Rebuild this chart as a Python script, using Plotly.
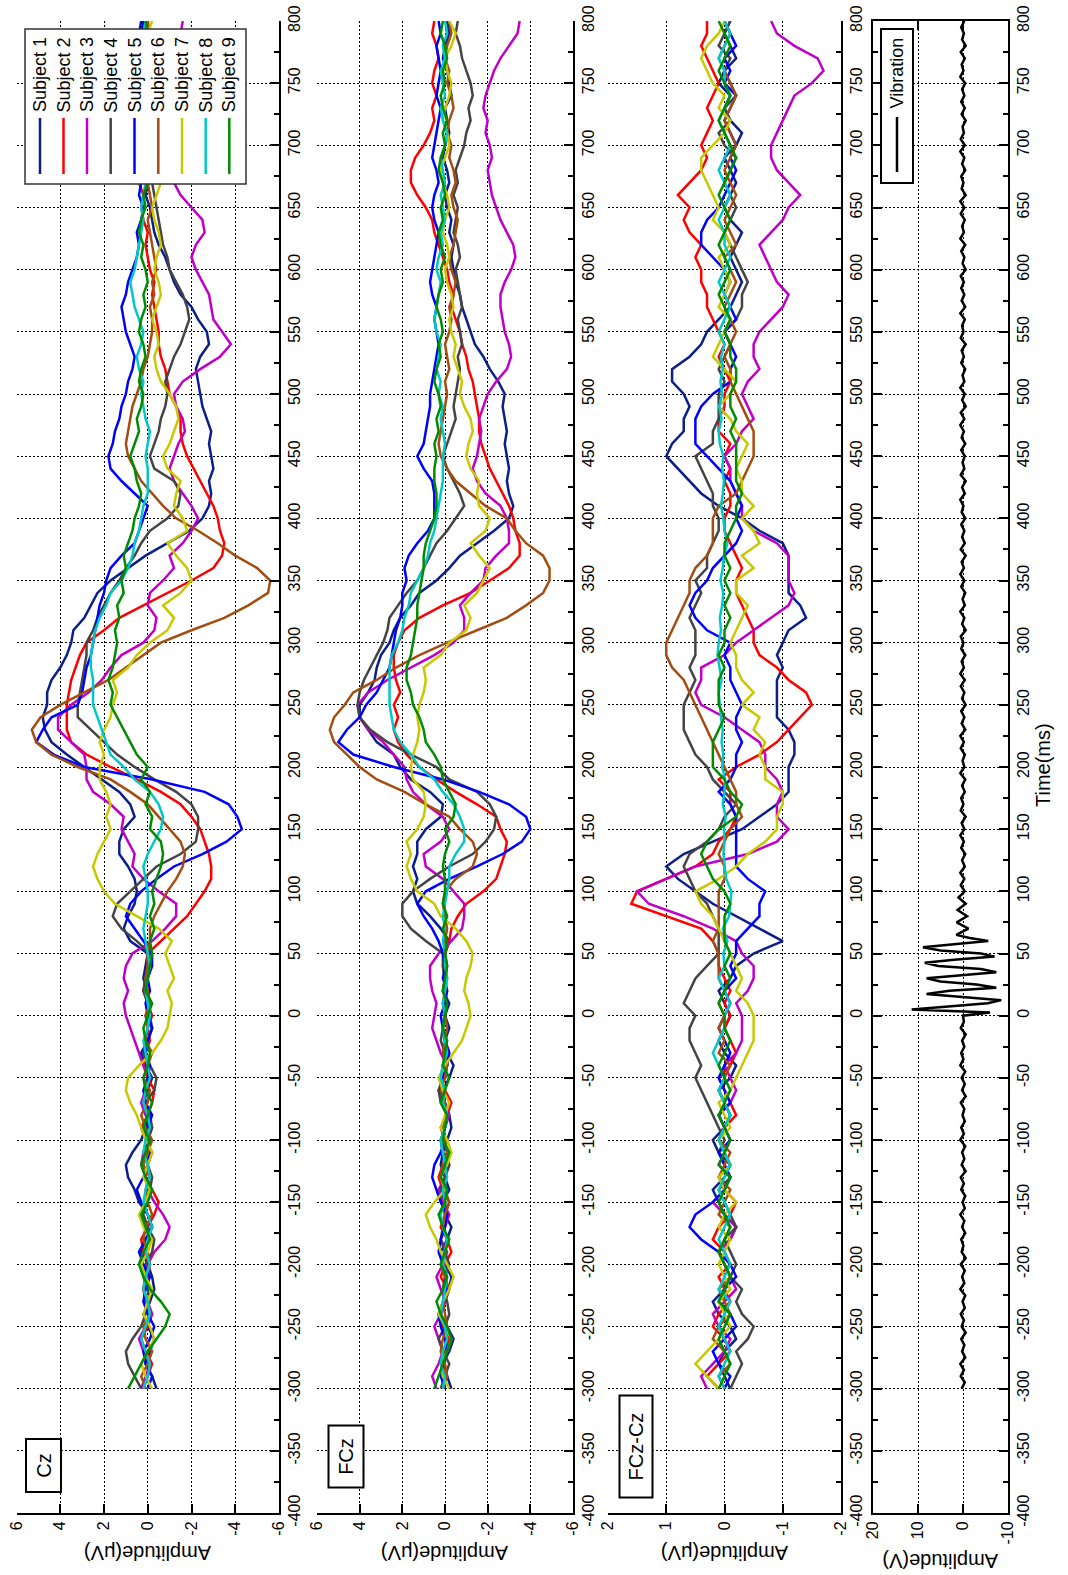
import plotly.graph_objects as go

W, H = 1068, 1575

time_ms = list(range(-300, 801, 10))
subject_names = ["Subject 1", "Subject 2", "Subject 3", "Subject 4", "Subject 5",
                 "Subject 6", "Subject 7", "Subject 8", "Subject 9"]
subject_colors = ["#0B1F8C", "#FF0000", "#C000C8", "#444444", "#0000FF",
                  "#A34E10", "#C8C800", "#00C8C8", "#008C00"]

# ---------------- Cz (uV) ----------------
cz_s1 = [-0.4,-0.2,0.1,-0.1,-0.3,0.0,0.2,-0.1,-0.3,-0.2,
         0.0,0.3,0.1,-0.2,0.0,0.4,0.6,0.9,1.0,0.7,
         0.3,0.1,-0.1,0.2,0.0,-0.2,0.1,0.3,0.0,-0.2,
         0.1,-0.1,0.0,0.2,0.1,
         0.0,0.8,1.1,0.9,0.6,0.5,0.6,0.9,1.3,1.3,
         1.1,0.6,0.8,1.3,2.1,2.9,3.7,4.4,4.7,4.8,
         4.6,4.6,4.4,4.0,3.7,3.5,3.4,2.9,2.6,2.3,
         1.7,0.9,0.1,-0.9,-1.9,-2.5,-2.8,-2.9,-2.8,-3.0,
         -2.9,
         -2.8,-2.9,-2.7,-2.5,-2.4,-2.3,-2.2,-2.4,-2.8,-2.7,
         -2.3,-2.0,-1.5,-1.2,-1.0,-0.8,-0.5,-0.3,-0.2,-0.1,
         0.1,0.0,0.2,0.1,0.1,0.3,0.2,0.0,-0.2,-0.1,
         0.1,0.2,0.3,0.4,0.3]
cz_s2 = [0.2,0.0,-0.2,0.1,0.3,0.0,-0.2,0.1,0.2,0.0,
         -0.1,0.2,0.3,0.0,-0.3,-0.5,-0.2,0.1,0.0,-0.2,
         0.1,0.3,0.0,-0.2,-0.3,0.0,0.2,0.1,-0.1,0.0,
         -0.2,0.0,0.2,0.1,0.0,
         0.0,-0.6,-1.2,-1.8,-2.2,-2.6,-2.9,-2.9,-2.8,-2.6,
         -2.4,-2.0,-1.5,-0.6,0.5,1.7,2.8,3.5,3.7,3.7,
         3.7,3.6,3.5,3.3,3.1,2.8,2.0,1.3,0.2,-0.9,
         -2.0,-3.0,-3.4,-3.5,-3.3,-3.2,-3.0,-2.7,-2.4,-2.1,
         -1.8,
         -1.6,-1.5,-1.5,-1.3,-1.0,-0.9,-0.8,-0.6,-0.5,-0.5,
         -0.4,-0.3,-0.2,-0.3,-0.1,0.0,0.1,0.0,0.2,0.3,
         0.2,0.4,0.3,0.2,0.1,0.3,0.2,0.0,0.1,0.3,
         0.2,0.1,0.3,0.2,0.0]
cz_s3 = [0.3,0.1,-0.1,0.2,0.4,0.1,-0.2,0.0,0.2,0.1,
         0.0,-0.3,-0.8,-1.0,-0.7,-0.3,0.0,0.1,0.3,0.2,
         0.0,-0.2,0.1,0.3,0.1,-0.1,0.2,0.4,0.6,0.8,
         1.0,1.1,0.9,1.1,1.0,
         0.7,-0.2,-0.8,-1.3,-1.3,-0.5,0.2,0.7,0.6,0.9,
         1.2,1.1,1.7,2.5,2.8,2.8,2.9,3.5,4.1,4.1,
         3.5,2.7,2.1,1.7,1.2,0.2,-0.3,-0.4,0.0,-0.1,
         -0.7,-1.2,-1.0,-1.6,-2.0,-2.3,-2.0,-1.6,-1.2,-1.0,
         -1.2,
         -1.4,-1.7,-1.6,-1.3,-1.2,-1.6,-2.4,-3.3,-3.8,-3.4,
         -3.0,-2.9,-2.8,-2.5,-2.2,-2.0,-2.2,-2.6,-2.5,-2.0,
         -1.5,-1.2,-1.0,-1.2,-1.1,-1.0,-1.3,-1.1,-0.9,-1.0,
         -1.2,-1.4,-1.3,-1.5,-1.6]
cz_s4 = [0.3,0.6,0.9,1.0,0.7,0.3,0.1,-0.1,0.0,0.2,
         0.1,-0.2,-0.3,0.0,0.2,0.1,-0.1,-0.2,0.0,0.1,
         0.0,-0.2,-0.1,0.1,-0.3,-0.4,-0.1,0.2,0.0,-0.2,
         -0.1,0.0,0.2,0.1,0.0,
         -0.1,0.5,1.2,1.6,1.4,0.8,0.2,-0.4,-1.5,-2.2,
         -2.3,-2.3,-2.0,-1.3,-0.3,0.6,1.4,2.0,2.6,3.2,
         3.2,3.1,3.0,2.9,2.8,2.8,2.5,2.3,2.0,1.7,
         1.3,1.0,0.6,0.3,-0.1,-0.9,-1.4,-1.5,-1.2,-0.3,
         -0.1,
         -0.3,-0.5,-0.6,-0.8,-0.9,-0.8,-1.0,-1.2,-1.5,-1.7,
         -1.9,-1.8,-1.6,-1.3,-1.0,-0.9,-0.7,-0.6,-0.5,-0.4,
         -0.3,-0.2,-0.3,-0.1,0.0,-0.1,0.1,0.0,-0.2,-0.1,
         0.0,0.1,-0.1,0.0,0.1]
cz_s5 = [0.0,-0.2,0.1,0.2,-0.1,-0.3,0.0,0.2,0.1,-0.1,
         0.2,0.4,0.1,-0.2,0.0,0.3,0.5,0.2,0.0,-0.1,
         0.1,0.0,-0.2,0.1,0.2,0.0,-0.1,0.1,0.0,-0.2,
         0.0,0.1,-0.1,0.0,-0.2,
         -0.2,0.2,0.6,1.0,0.8,0.3,-0.4,-1.2,-2.5,-3.6,
         -4.3,-4.1,-3.7,-2.6,-0.2,2.9,4.3,5.1,4.8,4.4,
         3.2,3.0,2.9,2.8,2.6,2.5,2.4,2.3,2.2,2.0,
         1.9,1.7,1.2,0.6,0.4,0.2,0.0,0.6,1.2,1.7,
         1.8,
         1.6,1.5,1.3,1.2,1.0,0.9,0.7,0.6,0.8,1.0,
         1.1,1.2,1.0,0.9,0.7,0.5,0.4,0.5,0.3,0.2,
         0.4,0.3,0.2,0.4,0.3,0.2,0.1,0.3,0.2,0.4,
         0.3,0.2,0.1,0.3,0.2]
cz_s6 = [0.1,0.3,0.0,-0.2,0.1,0.2,-0.1,0.0,0.2,0.1,
         -0.1,0.0,0.2,0.1,-0.2,0.0,0.1,-0.1,0.2,0.0,
         -0.2,0.1,0.3,0.0,-0.1,0.2,0.0,-0.2,0.1,0.0,
         0.1,-0.1,0.0,0.1,0.0,
         0.0,-0.1,-0.1,-0.3,-0.6,-0.9,-1.3,-1.6,-1.7,-1.5,
         -1.0,-0.5,0.0,0.8,1.7,3.2,4.4,5.1,5.3,4.9,
         4.0,2.9,1.8,1.0,0.2,-0.6,-2.0,-3.5,-4.6,-5.5,
         -5.6,-5.0,-4.0,-3.2,-2.3,-1.3,-0.7,-0.2,0.3,0.6,
         0.9,
         1.0,0.9,0.8,0.7,0.5,0.3,0.2,0.0,-0.1,-0.2,
         -0.2,-0.1,-0.3,-0.2,-0.4,-0.3,-0.2,-0.1,0.0,-0.2,
         -0.1,0.0,-0.2,-0.1,0.1,0.0,-0.1,0.1,0.0,-0.2,
         -0.1,0.0,0.1,-0.1,0.0]
cz_s7 = [-0.2,0.1,0.3,0.0,-0.3,-0.1,0.2,0.0,-0.2,0.1,
         0.3,0.0,-0.2,0.2,0.4,0.1,-0.1,0.2,0.0,-0.2,
         0.1,0.3,0.5,0.8,1.0,0.9,0.4,-0.2,-0.6,-0.9,
         -1.0,-1.1,-0.9,-1.2,-1.0,
         -0.8,-1.1,-0.5,0.5,1.5,2.0,2.3,2.5,2.3,2.0,
         1.7,1.9,1.7,1.9,2.2,2.2,2.0,2.2,2.0,1.7,
         1.6,1.4,1.6,0.9,0.5,-0.1,-0.9,-1.2,-0.7,-1.5,
         -2.0,-1.8,-1.3,-0.9,-1.8,-1.6,-1.2,-1.3,-1.5,-0.9,
         -0.7,
         -1.0,-1.2,-1.4,-1.3,-1.0,-0.6,-0.4,-0.3,-0.5,-0.4,
         -0.2,-0.4,-0.6,-0.5,-0.3,-0.4,-0.6,-0.5,-0.3,-0.2,
         -0.4,-0.6,-0.3,-0.1,-0.2,-0.4,-0.3,-0.1,0.0,-0.2,
         -0.4,-0.3,-0.1,0.0,-0.2]
cz_s8 = [0.2,0.0,-0.1,0.1,0.3,0.1,-0.1,0.0,0.2,0.1,
         -0.1,0.1,0.0,-0.2,0.0,0.2,0.1,-0.1,0.0,0.2,
         0.1,-0.1,0.0,0.2,0.1,-0.1,0.0,0.1,0.2,0.0,
         -0.1,0.0,0.1,0.0,-0.1,
         0.0,0.1,0.2,0.1,0.0,0.0,0.1,0.2,0.0,-0.3,
         -0.6,-0.7,-0.5,-0.1,0.6,1.1,1.7,1.9,2.1,2.3,
         2.5,2.5,2.5,2.6,2.6,2.5,2.4,2.2,1.9,1.7,
         1.2,0.9,0.7,0.6,0.4,0.3,0.2,0.0,0.0,0.0,
         0.1,
         0.0,-0.1,0.1,0.2,0.3,0.2,0.4,0.5,0.3,0.2,
         0.4,0.6,0.7,0.8,0.6,0.5,0.4,0.3,0.2,0.3,
         0.2,0.1,0.3,0.2,0.0,0.1,0.3,0.2,0.1,0.0,
         0.2,0.1,0.3,0.2,0.1]
cz_s9 = [0.9,0.6,0.3,0.0,-0.4,-0.8,-1.0,-0.6,-0.1,0.2,
         0.4,0.2,-0.1,0.1,0.3,0.0,-0.2,0.1,0.3,0.1,
         -0.1,0.2,0.0,-0.2,0.1,0.2,0.0,-0.1,0.1,0.2,
         0.0,-0.2,0.1,0.0,-0.1,
         -0.2,-0.1,-0.3,-0.1,-0.3,-0.2,-0.4,-0.6,-0.7,-0.6,
         -0.1,-0.2,0.1,-0.1,0.3,0.0,0.5,0.8,1.1,1.4,
         1.7,1.6,1.8,1.6,1.5,1.4,1.5,1.3,1.4,1.1,
         1.2,1.0,1.1,0.9,0.7,0.6,0.4,0.3,0.5,0.6,
         0.8,
         0.6,0.4,0.5,0.3,0.2,0.4,0.3,0.1,0.2,0.4,
         0.3,0.1,0.2,0.0,0.1,0.3,0.2,0.4,0.3,0.1,
         0.2,0.0,0.1,0.3,0.2,0.0,-0.1,0.1,0.2,0.0,
         -0.1,0.1,0.2,0.0,0.1]

# ---------------- FCz (uV) ----------------
fcz_s1 = [-0.3,-0.1,0.1,-0.2,-0.4,-0.1,0.2,0.0,-0.2,-0.3,
          0.0,0.2,-0.1,-0.3,0.0,0.1,-0.2,0.0,0.2,0.1,
          -0.1,-0.3,-0.2,0.0,0.1,-0.2,-0.4,-0.1,0.0,-0.2,
          0.0,-0.2,0.1,0.0,-0.1,
          0.0,-0.2,0.2,0.7,1.3,1.5,1.3,1.5,1.3,1.3,
          0.9,0.2,0.1,0.7,1.6,2.1,2.4,3.2,3.6,4.0,
          4.0,3.6,3.3,3.2,3.0,2.6,2.4,2.1,1.6,1.2,
          0.4,-0.2,-0.7,-1.5,-2.3,-3.0,-3.2,-3.0,-2.9,-3.0,
          -2.9,
          -2.8,-2.9,-2.8,-2.7,-2.8,-2.5,-2.1,-1.8,-1.4,-1.2,
          -1.0,-0.8,-0.7,-0.5,-0.4,-0.3,-0.4,-0.2,-0.3,-0.1,
          0.0,-0.2,-0.1,0.1,0.0,-0.2,-0.1,0.0,-0.3,-0.2,
          -0.1,0.1,0.0,-0.2,-0.1]
fcz_s2 = [0.1,-0.1,0.2,0.0,-0.2,0.1,0.3,0.0,-0.1,0.2,
          0.0,-0.3,-0.1,0.2,0.0,-0.2,0.1,0.3,0.1,-0.1,
          0.0,0.2,-0.1,-0.3,0.0,0.2,0.1,-0.2,0.0,0.1,
          0.0,0.1,-0.1,0.0,0.1,
          0.0,-0.2,-0.3,-0.6,-1.0,-1.8,-2.4,-2.6,-2.8,-2.9,
          -2.6,-2.4,-1.5,-0.5,0.4,1.2,1.8,2.2,2.4,2.2,
          2.4,2.1,2.3,2.4,2.4,2.2,1.9,1.2,0.1,-1.2,
          -2.1,-3.0,-3.5,-3.5,-3.3,-3.2,-3.0,-2.7,-2.4,-2.1,
          -1.9,
          -1.7,-1.6,-1.6,-1.5,-1.4,-1.3,-1.1,-1.0,-0.8,-0.7,
          -0.5,-0.3,-0.4,-0.2,-0.1,0.1,0.3,0.5,0.6,0.9,
          1.3,1.6,1.6,1.4,1.0,0.7,0.5,0.6,0.4,0.6,
          0.5,0.3,0.4,0.6,0.5]
fcz_s3 = [0.4,0.6,0.3,0.1,0.3,0.5,0.2,0.0,0.2,0.4,
          0.1,-0.1,0.2,0.0,-0.2,0.1,0.3,0.0,-0.2,0.1,
          0.2,0.0,-0.2,0.1,0.3,0.0,-0.1,0.2,0.4,0.6,
          0.5,0.4,0.6,0.7,0.7,
          0.3,-0.3,-0.8,-0.9,-0.9,-0.4,0.1,0.9,1.0,0.2,
          -0.2,0.1,0.9,1.5,1.8,1.9,2.4,2.9,3.6,4.0,
          4.1,3.6,2.7,1.6,0.5,-0.4,-0.9,-0.9,-0.7,-1.2,
          -1.8,-1.9,-2.4,-3.0,-3.0,-2.9,-2.6,-1.9,-1.5,-1.3,
          -1.5,
          -1.6,-1.7,-1.6,-1.8,-2.0,-2.4,-2.9,-3.1,-3.0,-2.8,
          -2.7,-2.6,-2.6,-2.8,-3.1,-3.3,-3.2,-2.9,-2.6,-2.4,
          -2.2,-2.1,-2.0,-2.2,-2.1,-1.9,-2.0,-1.8,-1.9,-2.1,
          -2.3,-2.6,-3.0,-3.4,-3.5]
fcz_s4 = [0.2,0.0,-0.2,0.1,0.3,0.0,-0.2,-0.1,0.1,0.0,
          -0.2,0.0,0.2,0.1,-0.1,0.0,0.2,0.0,-0.2,0.1,
          0.2,0.0,-0.1,0.2,0.3,0.1,-0.1,0.0,0.2,0.1,
          0.0,-0.1,0.1,0.0,0.1,
          0.1,0.9,1.6,2.0,2.0,1.5,0.7,-0.2,-1.3,-1.9,
          -2.3,-2.4,-2.1,-1.5,-0.2,0.4,1.6,2.7,3.5,4.0,
          4.1,4.0,3.8,3.5,3.2,2.9,2.7,2.6,2.2,1.8,
          1.3,1.0,0.7,0.4,-0.1,-0.5,-0.9,-0.7,-0.4,-0.1,
          0.1,
          -0.1,-0.3,-0.5,-0.4,-0.5,-0.6,-0.7,-0.6,-0.8,-0.7,
          -0.6,-0.8,-0.7,-0.6,-0.5,-0.7,-0.6,-0.4,-0.5,-0.6,
          -0.4,-0.6,-0.5,-0.7,-0.9,-1.0,-1.2,-1.1,-1.3,-1.2,
          -1.0,-0.8,-0.7,-0.5,-0.6]
fcz_s5 = [0.0,0.2,0.1,-0.1,0.0,0.2,0.3,0.1,-0.1,0.0,
          0.1,0.3,0.2,0.0,-0.1,0.2,0.4,0.6,0.5,0.2,
          0.0,0.1,-0.1,0.0,0.2,0.1,-0.1,-0.2,0.0,0.1,
          0.2,0.0,-0.1,0.1,0.0,
          0.1,0.3,0.6,1.0,1.3,0.9,-0.2,-1.5,-2.7,-3.6,
          -4.0,-3.8,-3.0,-1.6,0.1,2.4,4.3,5.0,4.6,4.0,
          3.7,3.2,2.9,2.6,2.5,2.4,2.3,2.1,2.0,2.0,
          1.8,1.9,1.7,1.3,0.8,0.5,0.5,0.5,0.6,1.0,
          1.3,
          1.0,0.9,0.8,0.7,0.7,0.6,0.5,0.4,0.3,0.4,
          0.5,0.4,0.6,0.7,0.6,0.5,0.4,0.3,0.5,0.6,
          0.5,0.3,0.4,0.6,0.5,0.4,0.3,0.2,0.4,0.3,
          0.2,0.3,0.4,0.2,0.3]
fcz_s6 = [0.1,-0.1,0.0,0.2,0.1,-0.1,0.0,0.1,-0.2,0.0,
          0.2,0.0,-0.1,0.1,0.0,-0.2,0.0,0.2,0.1,-0.1,
          0.0,0.1,-0.1,0.0,0.2,0.0,-0.1,0.1,0.0,-0.1,
          0.0,0.1,0.0,-0.1,0.0,
          0.0,0.0,-0.1,0.0,0.1,0.0,-0.5,-1.3,-1.5,-1.3,
          -0.7,-0.2,0.9,1.9,3.2,4.0,4.6,5.2,5.4,5.2,
          4.7,4.3,3.2,2.3,1.2,-0.1,-1.5,-2.9,-3.8,-4.6,
          -4.9,-4.9,-4.6,-3.8,-3.3,-2.9,-1.9,-1.2,-0.5,-0.1,
          0.2,
          0.3,0.2,0.1,0.0,-0.1,0.0,-0.2,-0.1,0.0,-0.2,
          -0.3,-0.2,-0.4,-0.5,-0.3,-0.2,-0.4,-0.5,-0.6,-0.4,
          -0.3,-0.5,-0.4,-0.2,-0.3,-0.1,-0.2,-0.4,-0.3,-0.1,
          -0.2,0.0,-0.1,-0.3,-0.2]
fcz_s7 = [-0.2,0.1,0.2,-0.1,-0.3,0.0,0.3,0.1,-0.2,-0.4,
          -0.1,0.2,0.4,0.7,0.9,0.5,0.0,0.2,-0.1,-0.3,
          -0.1,0.2,0.0,-0.2,0.1,0.3,0.0,-0.4,-0.8,-1.0,
          -1.2,-1.1,-0.9,-1.0,-1.2,
          -1.3,-1.0,-0.5,0.2,0.5,1.3,1.6,1.8,1.6,1.8,
          1.3,1.0,0.9,1.0,1.5,1.6,1.5,1.3,1.2,1.3,
          1.2,1.0,0.9,1.0,0.2,-0.2,-1.0,-1.2,-0.9,-1.5,
          -1.8,-2.1,-1.6,-1.2,-1.9,-2.1,-1.6,-1.5,-1.6,-1.2,
          -1.0,
          -1.1,-1.3,-1.2,-0.9,-0.7,-0.8,-0.6,-0.4,-0.5,-0.3,
          -0.2,-0.4,-0.3,-0.1,0.0,-0.2,-0.1,0.1,0.0,-0.2,
          -0.1,0.1,0.2,0.0,-0.2,-0.1,0.1,0.0,-0.2,-0.3,
          -0.1,0.0,-0.3,-0.5,-0.2]
fcz_s8 = [0.1,0.0,0.2,0.1,-0.1,0.0,0.2,0.1,0.0,-0.1,
          0.1,0.0,-0.1,0.1,0.2,0.0,0.1,-0.1,0.0,0.1,
          0.2,0.0,-0.1,0.1,0.0,0.2,0.1,-0.1,0.0,0.1,
          0.0,0.1,0.0,-0.1,0.0,
          0.0,0.1,0.0,0.1,0.0,-0.1,-0.2,-0.2,-0.5,-0.9,
          -0.9,-0.7,-0.4,0.1,0.5,1.2,1.6,2.1,2.4,2.5,
          2.6,2.6,2.6,2.6,2.5,2.2,2.0,1.9,1.7,1.6,
          1.3,1.0,0.8,0.7,0.5,0.4,0.3,0.2,0.1,0.1,
          0.1,
          0.0,0.1,0.2,0.1,0.3,0.2,0.4,0.3,0.2,0.4,
          0.5,0.4,0.3,0.2,0.4,0.3,0.1,0.2,0.0,0.1,
          0.2,0.0,0.1,0.2,0.0,-0.1,0.1,0.2,0.0,0.1,
          0.2,0.0,0.1,-0.1,0.0]
fcz_s9 = [0.5,0.3,0.1,-0.1,-0.3,-0.1,0.2,0.4,0.1,-0.1,
          0.2,0.0,-0.2,0.1,0.3,0.0,-0.1,0.2,0.0,-0.2,
          0.1,0.0,-0.1,0.2,0.0,-0.2,0.1,0.0,-0.1,0.1,
          0.0,-0.1,0.1,0.0,-0.1,
          0.0,-0.1,0.1,-0.1,0.1,0.0,0.0,0.1,0.0,-0.2,
          0.0,-0.4,-0.5,-0.2,0.1,0.2,0.5,0.9,1.0,1.2,
          1.5,1.6,1.8,1.8,1.6,1.5,1.4,1.3,1.3,1.2,
          1.1,1.0,1.0,0.9,0.7,0.5,0.4,0.4,0.5,0.5,
          0.4,
          0.5,0.3,0.4,0.2,0.3,0.5,0.4,0.2,0.3,0.1,
          0.2,0.4,0.3,0.1,0.2,0.0,0.2,0.3,0.1,0.2,
          0.0,0.1,0.3,0.2,0.0,0.1,-0.1,0.1,0.2,0.0,
          0.1,-0.1,0.0,0.2,0.1]

# ---------------- FCz-Cz (uV) ----------------
diff_s1 = [-0.1,0.0,0.1,0.0,-0.2,-0.1,0.1,0.2,0.0,-0.1,
           0.0,0.1,-0.1,-0.2,0.0,0.1,0.2,0.0,-0.1,0.1,
           0.2,0.0,-0.1,0.0,0.1,-0.1,-0.2,0.0,0.1,0.0,
           -0.1,0.0,0.1,-0.1,-0.2,
           -0.5,-1.0,-0.6,-0.2,0.2,0.5,0.8,1.0,0.7,0.2,
           -0.3,-0.6,-0.9,-1.1,-1.1,-1.1,-1.2,-1.2,-1.1,-0.9,
           -0.9,-0.9,-0.9,-1.0,-0.9,-1.0,-1.1,-1.4,-1.3,-1.1,
           -1.1,-1.1,-1.1,-1.0,-0.6,-0.3,0.1,0.4,0.6,0.8,
           1.0,0.9,0.7,0.7,0.6,0.7,0.9,0.9,0.6,
           0.4,0.3,0.1,-0.1,-0.2,-0.3,-0.2,-0.1,-0.2,-0.3,
           -0.1,0.0,-0.1,-0.2,-0.1,0.0,-0.2,-0.3,-0.1,0.0,
           -0.1,0.1,0.0,-0.2,-0.1,0.0,-0.1]
diff_s2 = [0.1,0.3,0.1,-0.1,0.0,0.2,0.1,-0.1,0.0,0.1,
           -0.1,0.0,0.2,0.1,-0.1,-0.2,0.0,0.1,-0.1,0.0,
           0.1,0.0,-0.2,-0.1,0.0,0.1,-0.1,-0.2,-0.1,0.0,
           -0.1,0.0,-0.1,0.0,0.1,
           0.1,0.2,0.4,1.0,1.6,1.5,1.0,0.5,0.2,0.1,
           -0.1,-0.2,-0.1,-0.1,0.1,-0.2,-0.6,-0.9,-1.1,-1.3,
           -1.5,-1.4,-1.1,-0.9,-0.6,-0.5,-0.5,-0.4,-0.3,-0.2,
           -0.2,-0.3,-0.2,-0.1,0.0,0.0,-0.1,-0.1,0.0,-0.1,
           0.0,-0.1,0.1,0.1,0.0,0.0,-0.1,0.0,0.1,
           0.0,0.1,0.2,0.3,0.3,0.4,0.4,0.5,0.4,0.6,
           0.7,0.6,0.8,0.6,0.4,0.3,0.4,0.3,0.2,0.3,
           0.2,0.1,0.2,0.3,0.4,0.3,0.3]
diff_s3 = [0.3,0.4,0.2,0.0,-0.1,0.1,0.2,0.0,-0.2,-0.1,
           0.0,0.1,-0.1,-0.2,0.0,0.2,0.0,-0.1,0.1,0.0,
           -0.1,0.0,0.1,-0.1,-0.2,-0.1,0.0,-0.2,-0.3,-0.3,
           -0.3,-0.2,-0.4,-0.5,-0.5,
           -0.3,-0.2,0.2,0.7,1.3,1.5,1.0,0.5,-0.4,-0.9,
           -1.1,-0.9,-0.9,-1.0,-0.9,-0.7,-0.7,-0.6,-0.3,0.0,
           0.4,0.5,0.4,0.4,0.0,-0.2,-0.5,-0.8,-1.1,-1.2,
           -1.1,-1.1,-1.1,-0.9,-0.5,-0.3,-0.3,-0.2,-0.1,-0.1,
           0.0,-0.2,-0.3,-0.5,-0.4,-0.3,-0.4,-0.6,-0.5,
           -0.5,-0.6,-0.8,-1.0,-1.1,-0.9,-0.8,-0.7,-0.6,-0.8,
           -1.0,-1.1,-1.3,-1.1,-0.9,-0.8,-0.8,-0.9,-1.0,-1.1,
           -1.2,-1.5,-1.7,-1.6,-1.2,-0.9,-0.8]
diff_s4 = [-0.1,-0.2,-0.3,-0.2,-0.4,-0.5,-0.3,-0.2,-0.3,-0.1,
           -0.2,-0.1,0.0,-0.2,-0.1,0.0,0.1,-0.1,0.0,0.1,
           0.0,0.1,0.2,0.3,0.4,0.5,0.4,0.5,0.6,0.6,
           0.5,0.7,0.6,0.5,0.3,
           0.1,0.1,0.1,0.2,0.3,0.5,0.6,0.7,0.6,0.3,
           0.1,0.0,-0.2,0.0,0.2,0.3,0.5,0.6,0.7,0.7,
           0.7,0.6,0.5,0.6,0.5,0.5,0.5,0.6,0.5,0.4,
           0.5,0.3,0.3,0.2,0.1,0.1,0.2,0.2,0.3,0.4,
           0.5,0.2,0.2,0.1,0.1,0.1,0.0,0.1,0.0,
           -0.1,0.0,-0.2,-0.3,-0.3,-0.4,-0.3,-0.2,-0.1,0.0,
           -0.1,-0.2,-0.1,0.0,-0.1,-0.2,0.0,0.1,-0.1,0.0,
           -0.2,-0.1,0.0,-0.1,0.1,0.0,-0.1]
diff_s5 = [0.0,-0.1,0.1,0.2,0.0,-0.2,-0.1,0.1,0.0,-0.2,
           -0.1,0.1,0.4,0.6,0.5,0.2,0.0,-0.1,0.0,0.1,
           -0.1,0.0,0.1,-0.1,0.0,0.1,0.0,-0.1,0.0,0.1,
           0.0,-0.1,0.0,-0.2,-0.1,
           -0.2,-0.2,-0.4,-0.6,-0.6,-0.7,-0.4,-0.2,-0.2,-0.2,
           -0.2,-0.2,-0.1,0.1,-0.1,-0.2,-0.2,-0.3,-0.2,-0.2,
           -0.3,-0.2,-0.1,-0.1,0.0,-0.1,0.3,0.5,0.6,0.5,
           0.3,0.2,0.0,-0.2,-0.3,-0.2,-0.3,-0.2,-0.1,0.1,
           0.3,0.5,0.5,0.5,0.4,0.2,-0.1,-0.1,-0.2,
           -0.1,0.0,-0.2,-0.1,0.0,-0.1,0.0,0.2,0.4,0.4,
           0.3,0.1,0.0,-0.1,-0.2,-0.1,-0.2,-0.1,0.0,-0.1,
           -0.2,0.0,-0.1,0.0,-0.2,-0.1,0.0]
diff_s6 = [0.0,0.1,-0.1,0.0,0.2,0.1,-0.1,0.0,0.1,-0.1,
           0.0,0.1,0.0,-0.1,0.1,0.0,-0.1,0.1,0.0,-0.1,
           0.1,0.0,-0.1,0.0,0.1,0.0,-0.1,0.1,0.0,0.1,
           0.0,0.1,0.0,0.1,0.1,
           0.1,0.2,0.1,0.1,0.1,0.1,0.0,0.0,0.1,0.0,
           -0.1,-0.3,-0.2,-0.2,-0.1,0.0,0.1,0.2,0.3,0.4,
           0.5,0.6,0.7,0.9,1.0,1.0,0.9,0.8,0.7,0.6,
           0.6,0.5,0.3,0.2,0.2,0.2,0.1,-0.2,-0.3,-0.4,
           -0.5,-0.5,-0.5,-0.4,-0.3,-0.2,-0.1,-0.1,0.0,
           -0.1,-0.2,-0.1,0.0,-0.1,-0.2,-0.1,0.0,-0.2,-0.1,
           0.0,-0.1,-0.2,-0.1,0.0,-0.1,-0.2,-0.1,0.0,-0.1,
           -0.2,-0.1,0.0,0.1,0.0,-0.1,0.0]
diff_s7 = [0.1,0.3,0.5,0.3,0.1,-0.1,0.0,0.1,-0.1,0.0,
           0.1,0.0,-0.1,0.1,0.0,-0.2,0.0,0.1,-0.1,0.0,
           0.1,-0.1,0.0,0.1,-0.1,-0.2,-0.3,-0.4,-0.5,-0.5,
           -0.5,-0.4,-0.2,-0.3,-0.2,
           -0.1,0.0,0.1,0.2,0.4,0.5,0.1,-0.2,-0.4,-0.7,
           -0.9,-0.9,-1.0,-1.0,-0.7,-0.7,-0.6,-0.7,-0.5,-0.6,
           -0.3,-0.5,-0.3,-0.2,-0.2,-0.1,-0.2,-0.3,-0.4,-0.2,
           -0.2,-0.5,-0.3,-0.6,-0.5,-0.3,-0.5,-0.3,-0.3,-0.2,
           -0.3,-0.4,-0.2,-0.1,0.1,-0.1,-0.2,0.0,0.2,
           0.1,0.0,-0.1,0.1,0.0,-0.1,0.0,0.1,-0.1,0.0,
           0.2,0.1,0.2,0.3,0.4,0.4,0.2,0.0,-0.1,0.1,
           0.0,0.2,0.3,0.4,0.3,0.1,0.0]
diff_s8 = [0.0,0.1,0.0,-0.1,0.0,0.1,0.0,-0.1,0.1,0.0,
           -0.1,0.0,0.1,0.0,-0.1,0.0,0.1,0.0,-0.1,0.0,
           0.1,0.0,-0.1,0.0,0.1,0.0,0.1,0.2,0.1,0.0,
           0.0,-0.1,0.0,0.1,0.0,
           0.02,-0.05,0.03,-0.08,-0.1,-0.12,-0.03,0.0,0.02,0.0,
           0.01,-0.02,0.03,0.0,-0.01,0.04,0.02,0.05,0.03,0.06,
           0.08,0.1,0.05,0.09,0.12,0.1,0.06,0.08,0.04,0.02,
           0.07,0.03,0.01,-0.05,0.0,0.02,0.06,0.03,0.01,0.04,
           0.02,0.08,0.1,0.05,0.09,0.04,0.07,0.03,0.06,
           0.0,0.1,0.0,-0.1,0.0,0.1,0.0,-0.1,0.0,0.0,
           0.1,0.0,-0.1,0.0,0.1,0.0,-0.1,0.0,0.1,0.0,
           -0.1,0.0,0.0,0.1,0.0,-0.1,0.0]
diff_s9 = [0.1,0.0,-0.1,0.0,0.1,0.0,-0.1,0.1,0.0,-0.1,
           0.0,0.1,0.0,-0.1,0.0,0.1,0.0,-0.1,0.1,0.0,
           -0.1,0.0,0.1,0.0,-0.1,0.0,0.1,0.0,-0.1,0.0,
           0.0,0.1,0.0,-0.1,0.0,
           -0.1,0.0,0.0,0.0,-0.1,0.0,0.2,0.3,0.4,0.3,
           0.1,-0.2,-0.3,-0.1,0.0,0.2,0.2,0.2,0.1,0.0,
           0.1,0.1,0.1,0.0,0.1,0.0,0.0,-0.1,0.0,-0.1,
           0.0,-0.1,0.0,0.0,-0.1,-0.2,-0.2,-0.3,-0.2,-0.2,
           -0.2,-0.2,-0.1,-0.2,-0.1,-0.1,-0.2,-0.2,-0.1,
           -0.1,0.0,-0.1,0.0,0.1,0.0,-0.1,0.0,0.1,0.0,
           -0.1,0.0,0.1,0.0,-0.1,-0.2,-0.1,0.0,0.1,0.0,
           -0.1,0.0,0.1,0.0,-0.1,0.0,0.1]

# ---------------- Vibration (V) ----------------
vib_time = (list(range(-300, 0, 5))
            + [0, 2.5, 5, 7.5, 10, 12.5, 15, 17.5, 20, 22.5, 25, 27.5, 30, 32.5,
               35, 37.5, 40, 42.5, 45, 47.5, 50, 52.5, 55, 57.5, 60, 62.5, 65]
            + list(range(70, 801, 5)))
vib_amp = [0.3,-0.4,0.5,-0.2,0.6,-0.5,0.2,-0.3,0.4,-0.6,
           0.3,-0.2,0.5,-0.4,0.1,-0.5,0.6,-0.3,0.2,-0.4,
           0.5,-0.6,0.3,-0.1,0.4,-0.5,0.2,-0.3,0.6,-0.4,
           0.1,-0.5,0.4,-0.2,0.5,-0.6,0.3,-0.3,0.2,-0.5,
           0.6,-0.2,0.4,-0.4,0.1,-0.3,0.5,-0.6,0.2,-0.4,
           0.3,-0.5,0.6,-0.1,0.4,-0.3,0.2,-0.6,0.5,-0.2,
           0.0,-6.0,11.4,3.0,-5.5,-8.5,0.5,8.1,3.0,-7.4,
           -3.0,5.0,8.1,1.0,-7.4,-4.0,5.5,8.5,2.0,-7.0,
           -4.0,5.0,8.9,2.0,-5.6,-1.5,1.5,
           -1.2,1.4,-0.9,1.2,-0.6,1.0,-0.4,
           0.5,-0.3,0.6,-0.4,0.2,-0.5,0.4,-0.2,0.6,-0.3,
           0.3,-0.6,0.5,-0.1,0.4,-0.4,0.2,-0.5,0.6,-0.3,
           0.1,-0.4,0.5,-0.2,0.6,-0.5,0.3,-0.3,0.4,-0.6,
           0.2,-0.3,0.5,-0.4,0.6,-0.2,0.3,-0.5,0.4,-0.1,
           0.5,-0.6,0.2,-0.3,0.6,-0.4,0.1,-0.5,0.4,-0.3,
           0.6,-0.2,0.3,-0.6,0.5,-0.4,0.2,-0.3,0.4,-0.5,
           0.3,-0.1,0.6,-0.4,0.2,-0.6,0.5,-0.3,0.1,-0.4,
           0.4,-0.5,0.3,-0.2,0.6,-0.3,0.5,-0.6,0.2,-0.4,
           0.6,-0.3,0.1,-0.5,0.4,-0.2,0.3,-0.6,0.5,-0.1,
           0.2,-0.4,0.6,-0.5,0.3,-0.3,0.4,-0.2,0.5,-0.6,
           0.1,-0.3,0.4,-0.5,0.6,-0.2,0.2,-0.4,0.5,-0.3,
           0.6,-0.6,0.3,-0.1,0.4,-0.5,0.2,-0.3,0.6,-0.4,
           0.5,-0.2,0.1,-0.6,0.3,-0.4,0.4,-0.3,0.2,-0.5,
           0.6,-0.1,0.3,-0.4,0.5,-0.6,0.2,-0.2,0.4,-0.3]

cz = [cz_s1, cz_s2, cz_s3, cz_s4, cz_s5, cz_s6, cz_s7, cz_s8, cz_s9]
fcz = [fcz_s1, fcz_s2, fcz_s3, fcz_s4, fcz_s5, fcz_s6, fcz_s7, fcz_s8, fcz_s9]
diff = [diff_s1, diff_s2, diff_s3, diff_s4, diff_s5, diff_s6, diff_s7, diff_s8, diff_s9]

for name, group in (("cz", cz), ("fcz", fcz), ("diff", diff)):
    for i, arr in enumerate(group):
        if len(arr) != len(time_ms):
            raise ValueError(f"{name}_s{i+1} has {len(arr)} values")
if len(vib_time) != len(vib_amp):
    raise ValueError(f"vib: {len(vib_time)} vs {len(vib_amp)}")

# ---------------- figure ----------------
FONT = "Liberation Sans, Arial, sans-serif"
def px(x): return x / W
def py(y): return 1 - y / H

fig = go.Figure()
for k, group in enumerate([cz, fcz, diff], start=1):
    for i, arr in enumerate(group):
        fig.add_trace(go.Scatter(x=arr, y=time_ms, mode="lines",
                                 line=dict(color=subject_colors[i], width=2.5),
                                 xaxis=f"x{k}" if k > 1 else "x",
                                 yaxis=f"y{k}" if k > 1 else "y",
                                 showlegend=False, hoverinfo="skip"))
fig.add_trace(go.Scatter(x=vib_amp, y=vib_time, mode="lines",
                         line=dict(color="black", width=2.5),
                         xaxis="x4", yaxis="y4", showlegend=False, hoverinfo="skip"))

cols = [(16.5, 279), (317, 573), (608, 841), (873, 1008)]
xranges = [[6, -6], [6, -6], [2, -2], [20, -10]]
xtickvals = [[6, 4, 2, 0, -2, -4, -6], [6, 4, 2, 0, -2, -4, -6],
             [2, 1, 0, -1, -2], [20, 10, 0, -10]]
time_ticks = list(range(-400, 801, 50))
grid = dict(showgrid=True, gridcolor="black", gridwidth=1.3, griddash="2px,2px")

layout = {}
for k in range(4):
    n = "" if k == 0 else str(k + 1)
    box = "ticks" if k == 3 else False
    layout[f"xaxis{n}"] = dict(
        domain=[px(cols[k][0]), px(cols[k][1])], range=xranges[k],
        anchor=f"y{n}", side="bottom", showline=True, linecolor="black",
        linewidth=2, mirror=box, ticks="inside", ticklen=9, tickwidth=2,
        tickcolor="black", tickvals=xtickvals[k],
        ticktext=[str(v) for v in xtickvals[k]], tickangle=-90,
        tickfont=dict(size=16, color="black", family=FONT),
        automargin=False, zeroline=False, fixedrange=True, **grid)
    layout[f"yaxis{n}"] = dict(
        domain=[py(1513), py(21)], range=[-400, 800], anchor=f"x{n}",
        side="right", showline=True, linecolor="black", linewidth=2,
        mirror=box, ticks="inside", ticklen=9, tickwidth=2, tickcolor="black",
        tickvals=time_ticks, ticktext=[str(v) for v in time_ticks],
        tickangle=-90, tickfont=dict(size=16, color="black", family=FONT),
        minor=dict(dtick=25, tick0=0, ticks="inside", ticklen=5, tickwidth=2,
                   tickcolor="black", showgrid=False),
        automargin=False, zeroline=False, fixedrange=True, **grid)

shapes = []
annotations = []

# Subject legend
shapes.append(dict(type="rect", xref="paper", yref="paper", layer="above",
                   x0=px(25), x1=px(246), y0=py(184), y1=py(29),
                   line=dict(color="#333333", width=1.5), fillcolor="white"))
leg_x = [40, 63.5, 87, 110.7, 134.5, 158.3, 182, 205.7, 229.3]
for i in range(9):
    shapes.append(dict(type="line", xref="paper", yref="paper", layer="above",
                       x0=px(leg_x[i]), x1=px(leg_x[i]), y0=py(174), y1=py(118),
                       line=dict(color=subject_colors[i], width=2.5)))
    annotations.append(dict(xref="paper", yref="paper", x=px(leg_x[i]), y=py(75),
                            text=subject_names[i], showarrow=False, textangle=-90,
                            xanchor="center", yanchor="middle",
                            font=dict(size=18, color="black", family=FONT)))

# Vibration legend
shapes.append(dict(type="rect", xref="paper", yref="paper", layer="above",
                   x0=px(881), x1=px(913), y0=py(183), y1=py(29),
                   line=dict(color="black", width=2), fillcolor="white"))
shapes.append(dict(type="line", xref="paper", yref="paper", layer="above",
                   x0=px(897), x1=px(897), y0=py(172), y1=py(117),
                   line=dict(color="black", width=2.5)))
annotations.append(dict(xref="paper", yref="paper", x=px(897), y=py(73.5),
                        text="Vibration", showarrow=False, textangle=-90,
                        xanchor="center", yanchor="middle",
                        font=dict(size=18, color="black", family=FONT)))

# Panel labels
for txt, cx, cy, w, h in [("Cz", 43.5, 1465.5, 51, 33), ("FCz", 345.5, 1457, 60, 33),
                          ("FCz-Cz", 635.5, 1447, 100, 31)]:
    annotations.append(dict(xref="paper", yref="paper", x=px(cx), y=py(cy),
                            text=txt, showarrow=False, textangle=-90,
                            xanchor="center", yanchor="middle", width=w, height=h,
                            bordercolor="black", borderwidth=2, borderpad=0,
                            bgcolor="white",
                            font=dict(size=20, color="black", family=FONT)))

# Axis titles
for txt, cx, cy in [("Amplitude(μV)", 148, 1553), ("Amplitude(μV)", 445, 1553),
                    ("Amplitude(μV)", 724.5, 1553), ("Amplitude(V)", 940.5, 1561)]:
    annotations.append(dict(xref="paper", yref="paper", x=px(cx), y=py(cy),
                            text=txt, showarrow=False, textangle=180,
                            xanchor="center", yanchor="middle",
                            font=dict(size=20, color="black", family=FONT)))
annotations.append(dict(xref="paper", yref="paper", x=px(1043), y=py(765),
                        text="Time(ms)", showarrow=False, textangle=-90,
                        xanchor="center", yanchor="middle",
                        font=dict(size=20, color="black", family=FONT)))

fig.update_layout(width=W, height=H, autosize=False,
                  margin=dict(l=0, r=0, t=0, b=0, autoexpand=False),
                  paper_bgcolor="white", plot_bgcolor="white",
                  showlegend=False, shapes=shapes, annotations=annotations,
                  font=dict(family=FONT, color="black"), **layout)

fig.write_html("out.html")
